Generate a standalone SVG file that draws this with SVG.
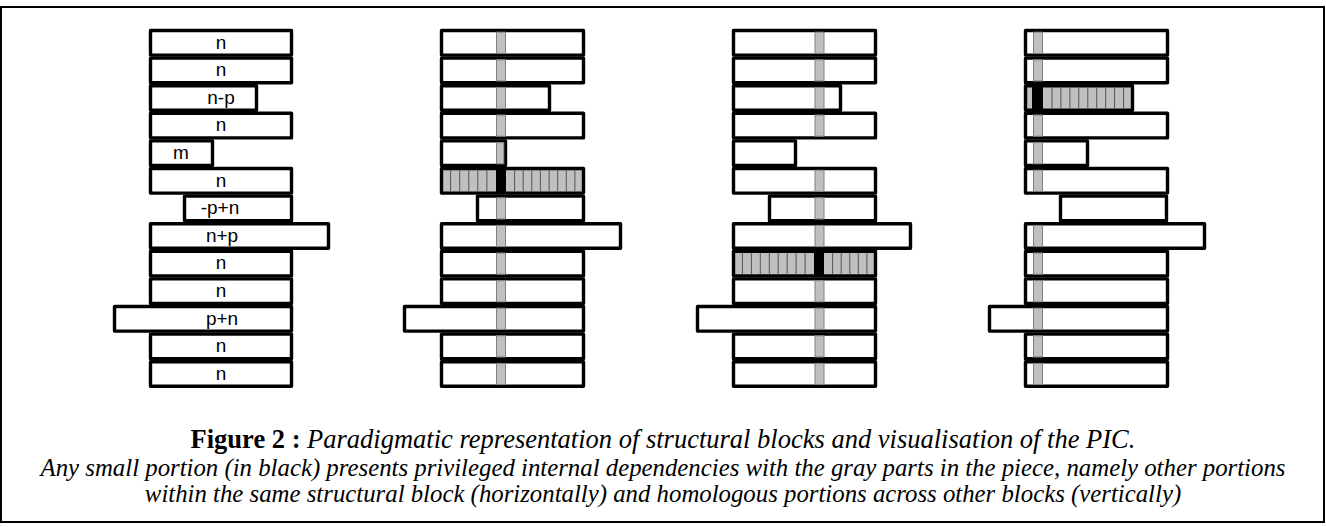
<svg xmlns="http://www.w3.org/2000/svg" width="1326" height="527" viewBox="0 0 1326 527">
<style>
.b{fill:#fff;stroke:#000;stroke-width:3.4;stroke-linejoin:round}
.h{fill:#c0c0c0;stroke:#000;stroke-width:3.4;stroke-linejoin:round}
.g{fill:#c0c0c0;stroke:#808080;stroke-width:1}
.k{fill:#000}
.sep{stroke:#555;stroke-width:1;fill:none}
.lbl{font-family:"Liberation Sans",Arial,sans-serif;font-size:19px;fill:#000;text-anchor:middle}
.cap{font-family:"Liberation Serif","Times New Roman",serif;fill:#000;text-anchor:middle}
</style>
<rect id="frame" x="1" y="7" width="1323" height="515" fill="#fff" stroke="#000" stroke-width="2"/>

<g id="col1">
<g id="c1r0"><rect class="b" x="150.5" y="30.5" width="141" height="24.6"/><text class="lbl" x="221" y="48.5">n</text></g>
<g id="c1r1"><rect class="b" x="150.5" y="58.1" width="141" height="24.6"/><text class="lbl" x="221" y="76.1">n</text></g>
<g id="c1r2"><rect class="b" x="150.5" y="85.7" width="106" height="24.6"/><text class="lbl" x="221" y="103.7">n-p</text></g>
<g id="c1r3"><rect class="b" x="150.5" y="113.3" width="141" height="24.6"/><text class="lbl" x="221" y="131.3">n</text></g>
<g id="c1r4"><rect class="b" x="150.5" y="140.9" width="62" height="24.6"/><text class="lbl" x="181" y="158.9">m</text></g>
<g id="c1r5"><rect class="b" x="150.5" y="168.5" width="141" height="24.6"/><text class="lbl" x="221" y="186.5">n</text></g>
<g id="c1r6"><rect class="b" x="184.5" y="196.1" width="107" height="24.6"/><text class="lbl" x="220" y="214.1">-p+n</text></g>
<g id="c1r7"><rect class="b" x="150.5" y="223.7" width="178" height="24.6"/><text class="lbl" x="222" y="241.7">n+p</text></g>
<g id="c1r8"><rect class="b" x="150.5" y="251.3" width="141" height="24.6"/><text class="lbl" x="221" y="269.3">n</text></g>
<g id="c1r9"><rect class="b" x="150.5" y="278.9" width="141" height="24.6"/><text class="lbl" x="221" y="296.9">n</text></g>
<g id="c1r10"><rect class="b" x="114.5" y="306.5" width="177" height="24.6"/><text class="lbl" x="222" y="324.5">p+n</text></g>
<g id="c1r11"><rect class="b" x="150.5" y="334.1" width="141" height="24.6"/><text class="lbl" x="221" y="352.1">n</text></g>
<g id="c1r12"><rect class="b" x="150.5" y="361.7" width="141" height="24.6"/><text class="lbl" x="221" y="379.7">n</text></g>
</g>

<g id="col2">
<g id="c2r0"><rect class="b" x="441.5" y="30.5" width="142" height="24.6"/><rect class="g" x="496.5" y="32.2" width="9" height="21.2"/></g>
<g id="c2r1"><rect class="b" x="441.5" y="58.1" width="142" height="24.6"/><rect class="g" x="496.5" y="59.8" width="9" height="21.2"/></g>
<g id="c2r2"><rect class="b" x="441.5" y="85.7" width="108" height="24.6"/><rect class="g" x="496.5" y="87.4" width="9" height="21.2"/></g>
<g id="c2r3"><rect class="b" x="441.5" y="113.3" width="142" height="24.6"/><rect class="g" x="496.5" y="115" width="9" height="21.2"/></g>
<g id="c2r4"><rect class="b" x="441.5" y="140.9" width="64" height="24.6"/><rect class="g" x="496.5" y="142.6" width="7.3" height="21.2"/></g>
<g id="c2r5"><rect class="h" x="441.5" y="168.5" width="142" height="24.6"/>
<path class="sep" d="M450.6 170V191.6M459.7 170V191.6M468.8 170V191.6M477.8 170V191.6M486.9 170V191.6M514.6 170V191.6M523.2 170V191.6M531.8 170V191.6M540.4 170V191.6M549.1 170V191.6M557.7 170V191.6M566.3 170V191.6M574.9 170V191.6"/>
<rect class="k" x="496" y="169" width="10" height="23.6"/></g>
<g id="c2r6"><rect class="b" x="477.5" y="196.1" width="106" height="24.6"/><rect class="g" x="496.5" y="197.8" width="9" height="21.2"/></g>
<g id="c2r7"><rect class="b" x="441.5" y="223.7" width="179" height="24.6"/><rect class="g" x="496.5" y="225.4" width="9" height="21.2"/></g>
<g id="c2r8"><rect class="b" x="441.5" y="251.3" width="142" height="24.6"/><rect class="g" x="496.5" y="253" width="9" height="21.2"/></g>
<g id="c2r9"><rect class="b" x="441.5" y="278.9" width="142" height="24.6"/><rect class="g" x="496.5" y="280.6" width="9" height="21.2"/></g>
<g id="c2r10"><rect class="b" x="404.5" y="306.5" width="179" height="24.6"/><rect class="g" x="496.5" y="308.2" width="9" height="21.2"/></g>
<g id="c2r11"><rect class="b" x="441.5" y="334.1" width="142" height="24.6"/><rect class="g" x="496.5" y="335.8" width="9" height="21.2"/></g>
<g id="c2r12"><rect class="b" x="441.5" y="361.7" width="142" height="24.6"/><rect class="g" x="496.5" y="363.4" width="9" height="21.2"/></g>
</g>

<g id="col3">
<g id="c3r0"><rect class="b" x="733.5" y="30.5" width="142" height="24.6"/><rect class="g" x="815" y="32.2" width="9" height="21.2"/></g>
<g id="c3r1"><rect class="b" x="733.5" y="58.1" width="142" height="24.6"/><rect class="g" x="815" y="59.8" width="9" height="21.2"/></g>
<g id="c3r2"><rect class="b" x="733.5" y="85.7" width="107" height="24.6"/><rect class="g" x="815" y="87.4" width="9" height="21.2"/></g>
<g id="c3r3"><rect class="b" x="733.5" y="113.3" width="142" height="24.6"/><rect class="g" x="815" y="115" width="9" height="21.2"/></g>
<g id="c3r4"><rect class="b" x="733.5" y="140.9" width="62" height="24.6"/></g>
<g id="c3r5"><rect class="b" x="733.5" y="168.5" width="142" height="24.6"/><rect class="g" x="815" y="170.2" width="9" height="21.2"/></g>
<g id="c3r6"><rect class="b" x="769.5" y="196.1" width="106" height="24.6"/><rect class="g" x="815" y="197.8" width="9" height="21.2"/></g>
<g id="c3r7"><rect class="b" x="733.5" y="223.7" width="177" height="24.6"/><rect class="g" x="815" y="225.4" width="9" height="21.2"/></g>
<g id="c3r8"><rect class="h" x="733.5" y="251.3" width="142" height="24.6"/>
<path class="sep" d="M742.4 252.8V274.4M751.4 252.8V274.4M760.3 252.8V274.4M769.3 252.8V274.4M778.2 252.8V274.4M787.2 252.8V274.4M796.1 252.8V274.4M805.1 252.8V274.4M832.6 252.8V274.4M841.2 252.8V274.4M849.8 252.8V274.4M858.3 252.8V274.4M866.9 252.8V274.4"/>
<rect class="k" x="814" y="251.8" width="10" height="23.6"/></g>
<g id="c3r9"><rect class="b" x="733.5" y="278.9" width="142" height="24.6"/><rect class="g" x="815" y="280.6" width="9" height="21.2"/></g>
<g id="c3r10"><rect class="b" x="697.5" y="306.5" width="178" height="24.6"/><rect class="g" x="815" y="308.2" width="9" height="21.2"/></g>
<g id="c3r11"><rect class="b" x="733.5" y="334.1" width="142" height="24.6"/><rect class="g" x="815" y="335.8" width="9" height="21.2"/></g>
<g id="c3r12"><rect class="b" x="733.5" y="361.7" width="142" height="24.6"/><rect class="g" x="815" y="363.4" width="9" height="21.2"/></g>
</g>

<g id="col4">
<g id="c4r0"><rect class="b" x="1025.5" y="30.5" width="142" height="24.6"/><rect class="g" x="1033.5" y="32.2" width="9" height="21.2"/></g>
<g id="c4r1"><rect class="b" x="1025.5" y="58.1" width="142" height="24.6"/><rect class="g" x="1033.5" y="59.8" width="9" height="21.2"/></g>
<g id="c4r2"><rect class="h" x="1025.5" y="85.7" width="107" height="24.6"/>
<path class="sep" d="M1052 87.2V108.8M1060.9 87.2V108.8M1069.9 87.2V108.8M1078.8 87.2V108.8M1087.8 87.2V108.8M1096.7 87.2V108.8M1105.7 87.2V108.8M1114.6 87.2V108.8M1123.6 87.2V108.8"/>
<rect class="k" x="1032" y="86.2" width="11" height="23.6"/></g>
<g id="c4r3"><rect class="b" x="1025.5" y="113.3" width="142" height="24.6"/><rect class="g" x="1033.5" y="115" width="9" height="21.2"/></g>
<g id="c4r4"><rect class="b" x="1025.5" y="140.9" width="62" height="24.6"/><rect class="g" x="1033.5" y="142.6" width="9" height="21.2"/></g>
<g id="c4r5"><rect class="b" x="1025.5" y="168.5" width="142" height="24.6"/><rect class="g" x="1033.5" y="170.2" width="9" height="21.2"/></g>
<g id="c4r6"><rect class="b" x="1060.5" y="196.1" width="106" height="24.6"/></g>
<g id="c4r7"><rect class="b" x="1025.5" y="223.7" width="179" height="24.6"/><rect class="g" x="1033.5" y="225.4" width="9" height="21.2"/></g>
<g id="c4r8"><rect class="b" x="1025.5" y="251.3" width="142" height="24.6"/><rect class="g" x="1033.5" y="253" width="9" height="21.2"/></g>
<g id="c4r9"><rect class="b" x="1025.5" y="278.9" width="142" height="24.6"/><rect class="g" x="1033.5" y="280.6" width="9" height="21.2"/></g>
<g id="c4r10"><rect class="b" x="989.5" y="306.5" width="178" height="24.6"/><rect class="g" x="1033.5" y="308.2" width="9" height="21.2"/></g>
<g id="c4r11"><rect class="b" x="1025.5" y="334.1" width="142" height="24.6"/><rect class="g" x="1033.5" y="335.8" width="9" height="21.2"/></g>
<g id="c4r12"><rect class="b" x="1025.5" y="361.7" width="142" height="24.6"/><rect class="g" x="1033.5" y="363.4" width="9" height="21.2"/></g>
</g>

<g id="caption">
<text class="cap" x="663" y="448" font-size="26.5"><tspan font-weight="bold">Figure 2 :</tspan><tspan font-style="italic"> Paradigmatic representation of structural blocks and visualisation of the PIC.</tspan></text>
<text class="cap" x="663" y="476" font-size="24.8" font-style="italic">Any small portion (in black) presents privileged internal dependencies with the gray parts in the piece, namely other portions</text>
<text class="cap" x="663" y="502" font-size="24.8" font-style="italic">within the same structural block (horizontally) and homologous portions across other blocks (vertically)</text>
</g>
</svg>
